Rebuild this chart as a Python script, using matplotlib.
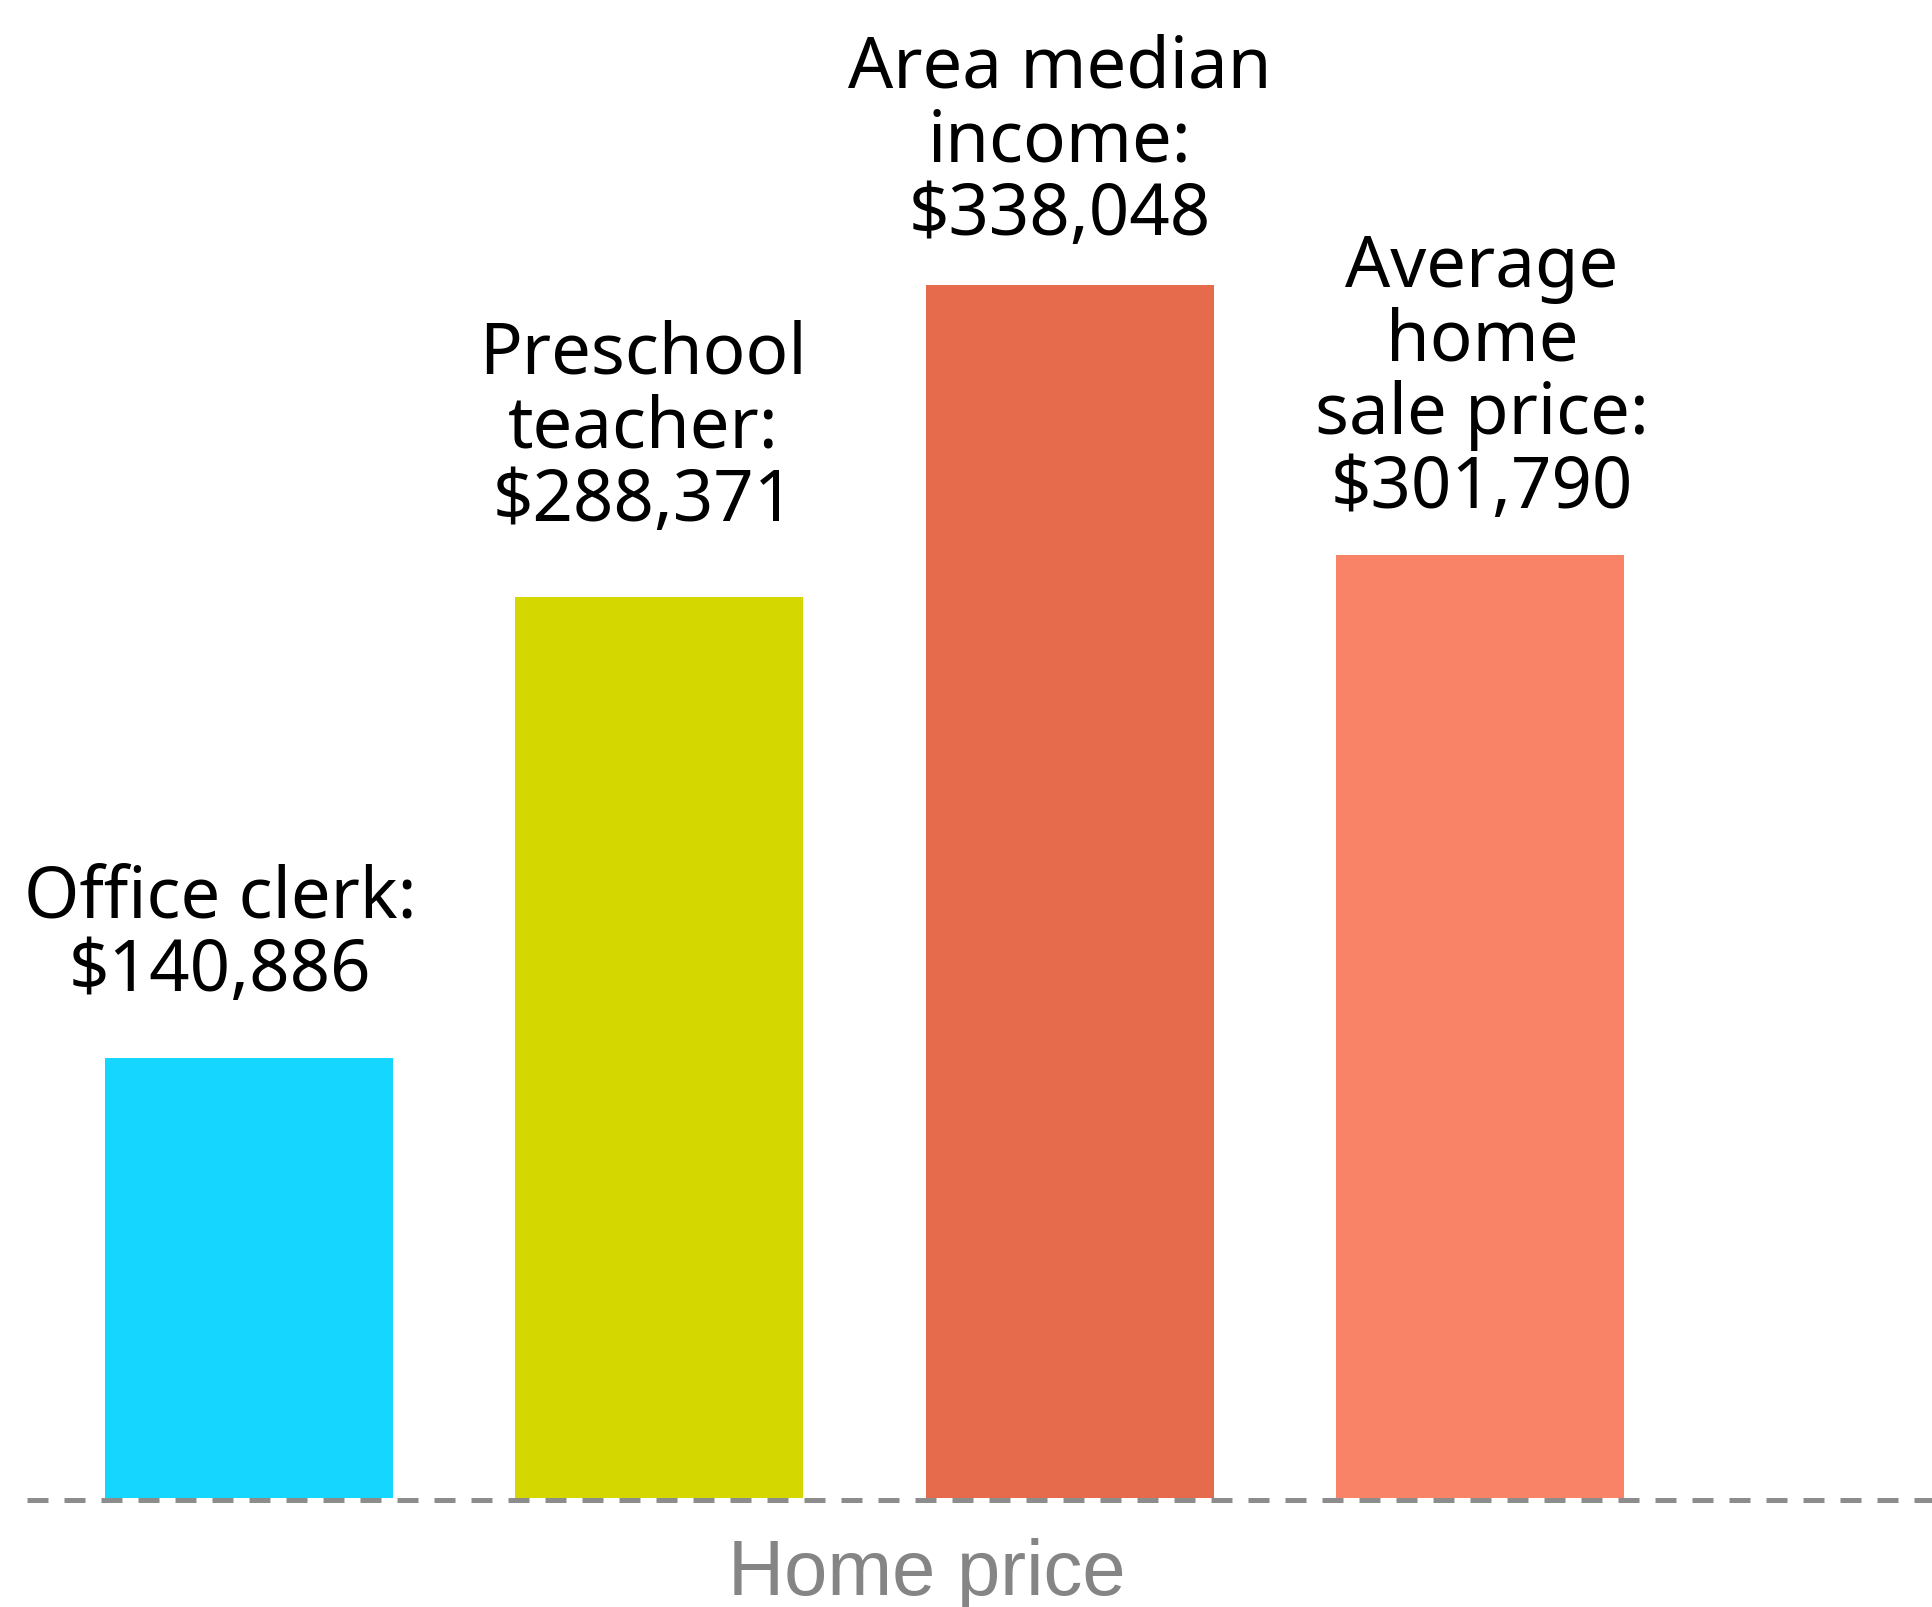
import matplotlib
matplotlib.use("Agg")
import matplotlib.pyplot as plt

# data
categories = ["Office clerk", "Preschool\nteacher", "Area median\nincome", "Average\nhome\nsale price"]
label_values = [140886, 288371, 338048, 301790]
bar_heights = [140886, 288371, 388200, 301790]  # drawn height (bar 3 is drawn taller than its label)
colors = ["#14d6ff", "#d4d800", "#e66b4d", "#f98366"]

W, H = 1932, 1608
fig = plt.figure(figsize=(W / 100, H / 100), dpi=100)
ax = fig.add_axes([0, 0, 1, 1])

# pixel geometry of the reference
px_per_unit = 410.33
px_per_dollar = 0.0031245
x0_px, base_px = 249, 1499
ax.set_xlim(-x0_px / px_per_unit, (W - x0_px) / px_per_unit)
ax.set_ylim(-(H - base_px) / px_per_dollar, base_px / px_per_dollar)
ax.axis("off")

x = list(range(len(categories)))
ax.bar(x, bar_heights, width=0.702, color=colors, zorder=2)

# dashed baseline
ax.plot([(27 - x0_px) / px_per_unit, (W - x0_px) / px_per_unit], [-800, -800],
        color="#8c8c8c", lw=3.6, dashes=(4.2, 3.2), zorder=3, dash_capstyle="butt")

# labels above bars (offsets in pixels from bar top)
offsets = [(-29, 68), (-16, 77), (-10, 51), (2, 48)]
for i in x:
    txt = "{}:\n${:,}".format(categories[i], label_values[i])
    ax.annotate(txt, (x[i], bar_heights[i]), xytext=offsets[i], textcoords="offset pixels",
                ha="center", va="baseline", multialignment="center",
                fontsize=51, family="Noto Sans", color="black", linespacing=1.05)

fig.text(927 / W, 13 / H, "Home price", ha="center", va="baseline",
         fontsize=56, family="Liberation Sans", color="#858585")

fig.savefig("out.png", dpi=100)
